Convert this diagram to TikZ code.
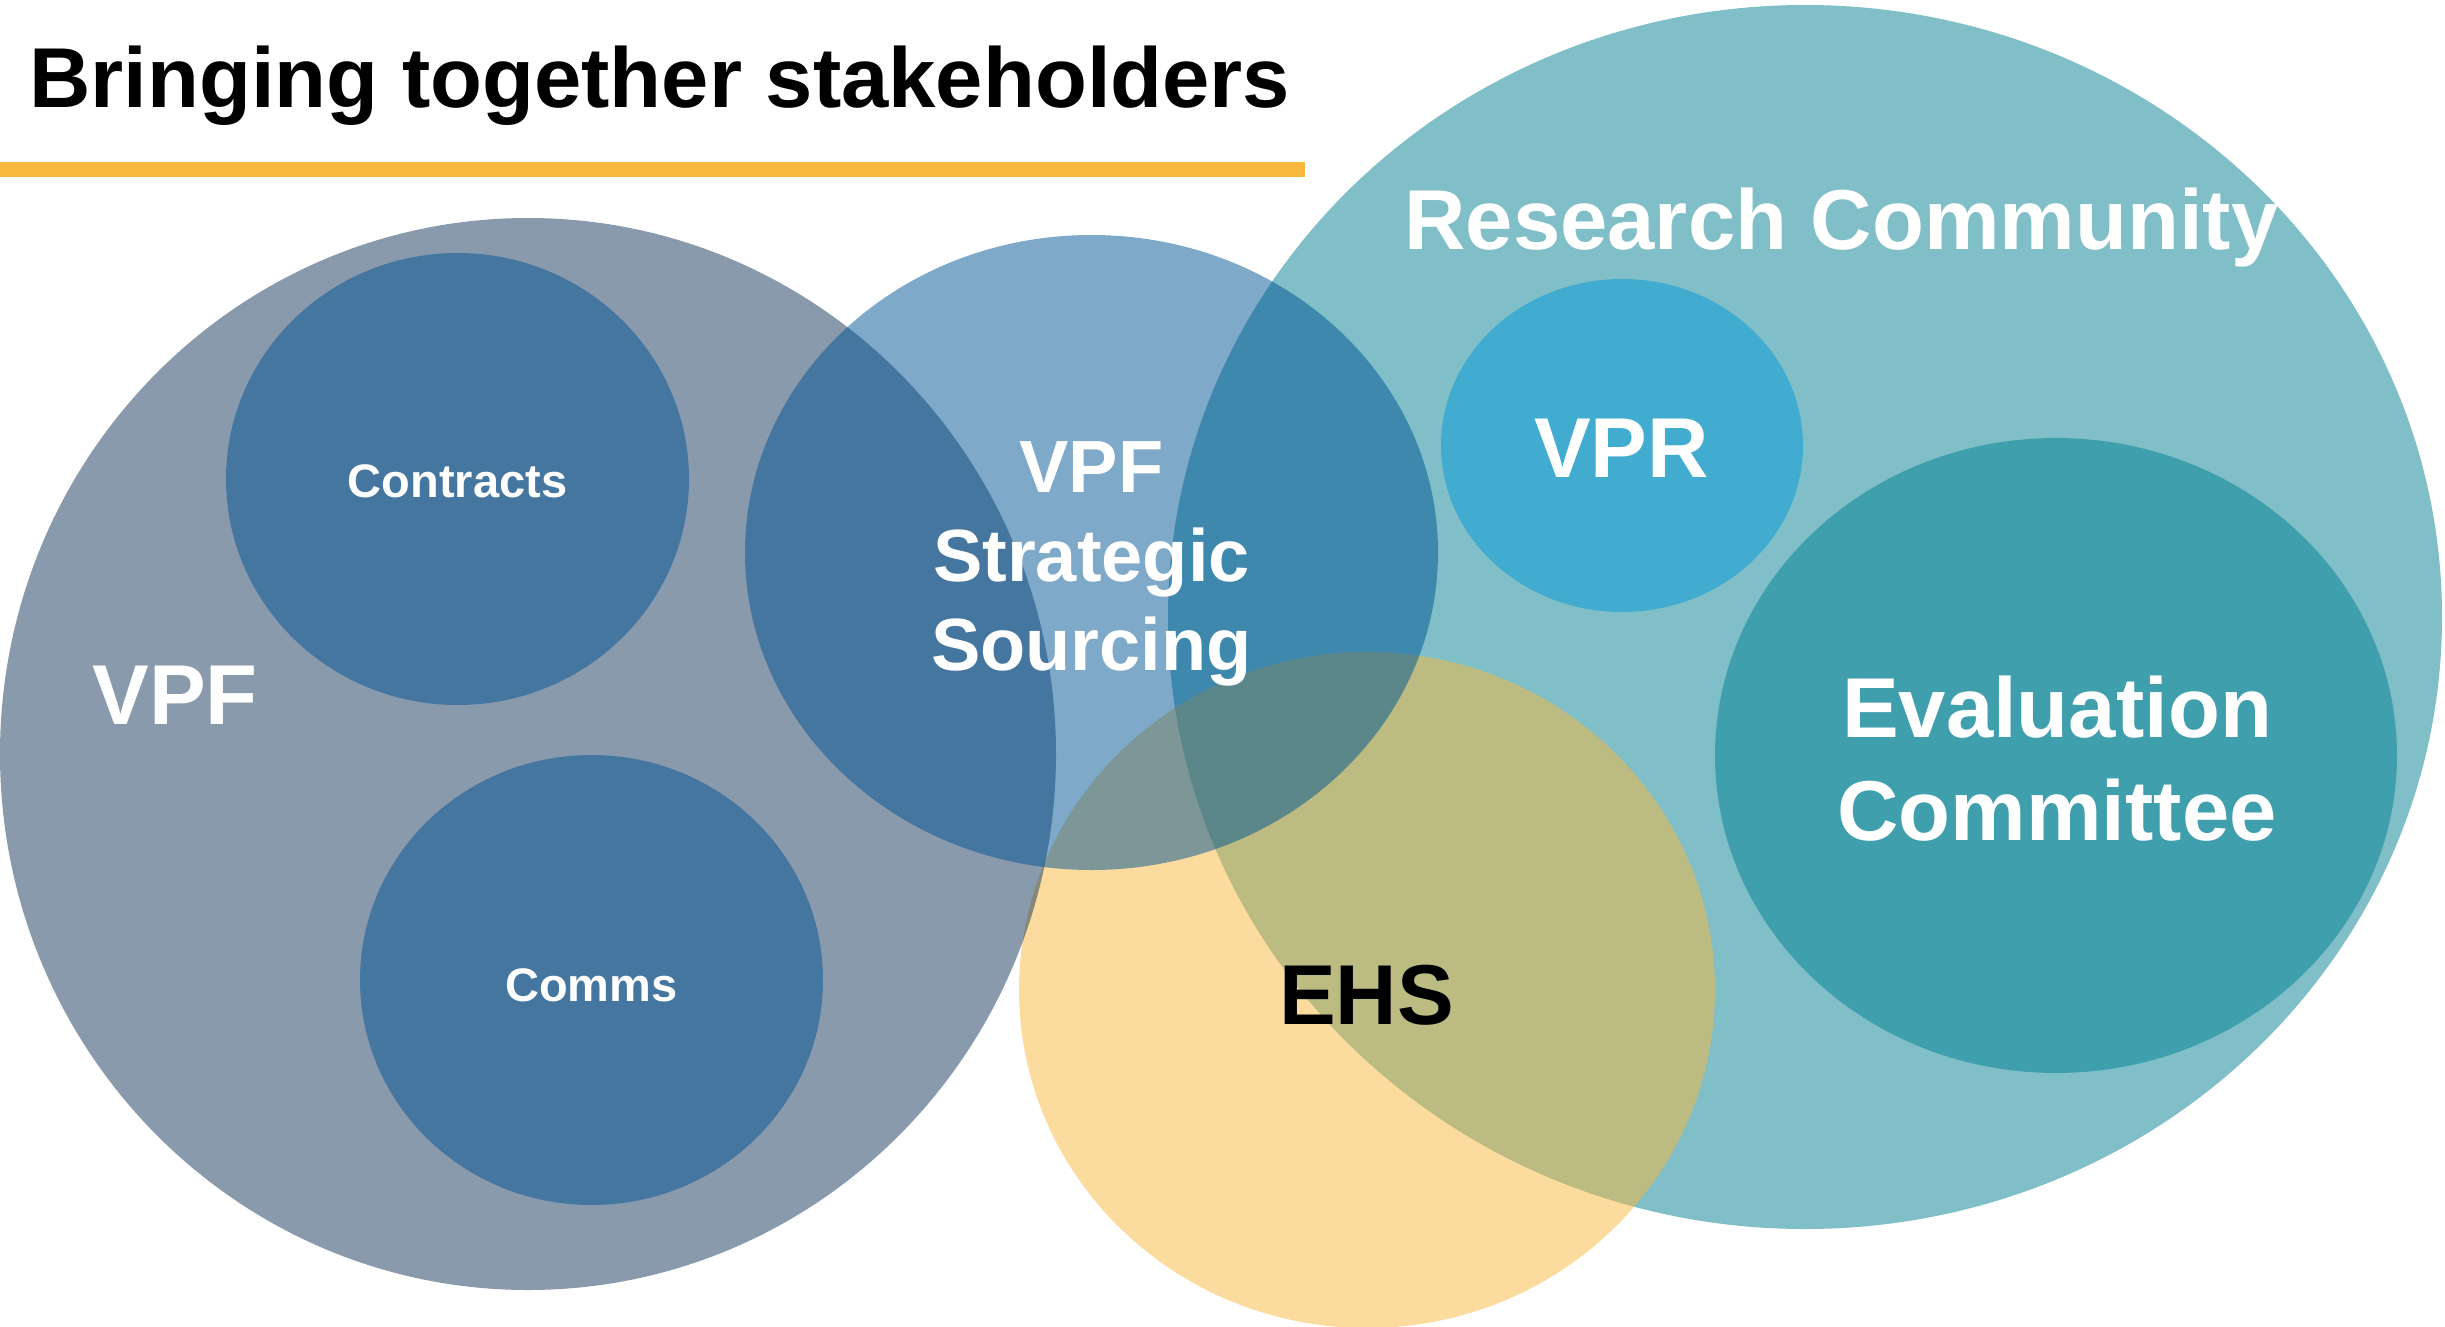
\documentclass[tikz,border=0pt]{standalone}
\usepackage{fontspec}
\setmainfont{Liberation Sans}
\definecolor{ssC}{RGB}{0,83,147}
\definecolor{vpfC}{RGB}{21,53,91}
\definecolor{rcC}{RGB}{1,127,145}
\definecolor{vprC}{RGB}{65,172,208}
\definecolor{ehsC}{RGB}{247,184,61}
\definecolor{lineC}{RGB}{248,185,60}
\begin{document}
\begin{tikzpicture}[x=1pt,y=-1pt,
  half/.style={fill=#1,fill opacity=0.5},
  big/.style={font=\bfseries\fontsize{85}{103}\selectfont,inner sep=0pt,anchor=base,align=center,text=white},
  mid/.style={font=\bfseries\fontsize{74}{89}\selectfont,inner sep=0pt,anchor=base,align=center,text=white},
  small/.style={font=\bfseries\fontsize{47}{56}\selectfont,inner sep=0pt,anchor=base,text=white}]
\path[use as bounding box] (0,0) rectangle (2445,1326);
\begin{scope}
\clip (0,0) rectangle (2445,1326);
% Research Community
\fill[half=rcC] (1805,617) ellipse [x radius=637, y radius=612];
% Evaluation Committee
\fill[half=rcC] (2056,755.5) ellipse [x radius=341, y radius=317.5];
% VPR
\fill[vprC] (1622,445.5) ellipse [x radius=181, y radius=166.5];
% EHS
\fill[half=ehsC] (1367,990) ellipse [x radius=348, y radius=338];
% VPF
\fill[half=vpfC] (528,754) ellipse [x radius=528, y radius=536];
% Contracts, Comms
\fill[half=ssC] (457.5,479) ellipse [x radius=231.5, y radius=226];
\fill[half=ssC] (591.5,980) ellipse [x radius=231.5, y radius=225];
% VPF Strategic Sourcing
\fill[half=ssC] (1091.5,552.5) ellipse [x radius=346.5, y radius=317.5];
\end{scope}
% title and rule
\node[font=\bfseries\fontsize{85}{103}\selectfont,inner sep=0pt,anchor=base west] (title) at (29,107) {Bringing together stakeholders};
\fill[lineC] (0,162) rectangle (1305,177);
% labels
\node[big] (vpf) at (175,724) {VPF};
\node[small] (contracts) at (457.5,497) {Contracts};
\node[small] (comms) at (591.5,1001) {Comms};
\node[mid] (ss) at (1091.5,670) {VPF\\Strategic\\Sourcing};
\node[big] (rc) at (1841.5,249) {Research Community};
\node[big] (vpr) at (1621.5,477) {VPR};
\node[big] (ec) at (2057,840) {Evaluation\\Committee};
\node[big,text=black] (ehs) at (1366.5,1024) {EHS};
\end{tikzpicture}
\end{document}
